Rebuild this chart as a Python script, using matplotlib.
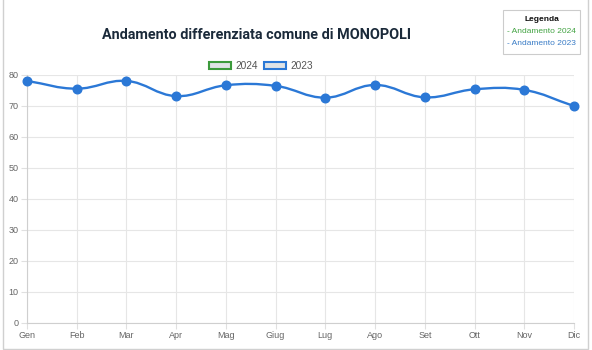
import numpy as np
import matplotlib
matplotlib.use("Agg")
import matplotlib.pyplot as plt
from matplotlib.path import Path
from matplotlib.patches import PathPatch, Patch, Rectangle

months = ["Gen", "Feb", "Mar", "Apr", "Mag", "Giug", "Lug", "Ago", "Set", "Ott", "Nov", "Dic"]
values_2023 = [78.0, 75.5, 78.0, 73.1, 76.6, 76.4, 72.6, 76.7, 72.7, 75.3, 75.1, 69.9]
values_2024 = []
yticks = [0, 10, 20, 30, 40, 50, 60, 70, 80]
title = "Andamento differenziata comune di MONOPOLI"

BLUE = "#2b78d6"
GREEN = "#3c9a3c"

fig = plt.figure(figsize=(5.92, 3.5), dpi=100)
fig.patch.set_facecolor("white")
ax = fig.add_axes([27/592, 1-323/350, (574-27)/592, (323-74.7)/350])
ax.set_facecolor("white")

x = np.arange(len(months), dtype=float)
y = np.array(values_2023, dtype=float)

# Chart.js style spline (tension 0.4)
def spline_path(xs, ys, t=0.4):
    n = len(xs)
    verts = [(xs[0], ys[0])]
    codes = [Path.MOVETO]
    cps = []
    for i in range(n):
        pxp, pyp = (xs[i-1], ys[i-1]) if i > 0 else (xs[i], ys[i])
        pxn, pyn = (xs[i+1], ys[i+1]) if i < n-1 else (xs[i], ys[i])
        cx, cy = xs[i], ys[i]
        d01 = np.hypot(cx-pxp, cy-pyp)
        d12 = np.hypot(pxn-cx, pyn-cy)
        s01 = d01/(d01+d12) if (d01+d12) else 0
        s12 = d12/(d01+d12) if (d01+d12) else 0
        fa, fb = t*s01, t*s12
        prev_cp = (cx - fa*(pxn-pxp), cy - fa*(pyn-pyp))
        next_cp = (cx + fb*(pxn-pxp), cy + fb*(pyn-pyp))
        cps.append((prev_cp, next_cp))
    for i in range(1, n):
        verts += [cps[i-1][1], cps[i][0], (xs[i], ys[i])]
        codes += [Path.CURVE4]*3
    return Path(verts, codes)

sx = 547/11.0
sy = 248/80.0
p = spline_path(x*sx, y*sy)
p = Path(np.column_stack([p.vertices[:, 0]/sx, p.vertices[:, 1]/sy]), p.codes)
ax.add_patch(PathPatch(p, facecolor="none", edgecolor=BLUE, lw=1.7, zorder=3, clip_on=False))
ax.plot(x, y, "o", color=BLUE, ms=6.2, zorder=4, clip_on=False)

ax.set_xlim(0, 11)
ax.set_ylim(0, 80)
ax.set_xticks(x)
ax.set_xticklabels(months)
ax.set_yticks(yticks)
ax.grid(True, color="#e6e6e6", lw=0.8)
ax.set_axisbelow(True)
for s in ["top", "right"]:
    ax.spines[s].set_visible(False)
for s in ["left", "bottom"]:
    ax.spines[s].set_color("#cfcfcf")
    ax.spines[s].set_linewidth(0.8)
ax.tick_params(axis="both", length=4, color="#e0e0e0", labelsize=6.5, labelcolor="#666666",
               pad=2)
for lbl in ax.get_xticklabels() + ax.get_yticklabels():
    lbl.set_fontfamily("Liberation Sans")

fig.text(257/592, 1-35/350, title, ha="center", va="center", fontsize=10.4,
         fontweight="bold", color="#1b2a3a", family="Roboto")

handles = [Patch(facecolor="#dfe3e6", edgecolor=GREEN, lw=1.5, label="2024"),
           Patch(facecolor="#dfe3e6", edgecolor=BLUE, lw=1.5, label="2023")]
leg = fig.legend(handles=handles, loc="center", bbox_to_anchor=(261/592, 1-66/350), ncol=2,
                 frameon=False, handlelength=2.2, handleheight=0.8,
                 columnspacing=0.6, handletextpad=0.4, labelcolor="#555555",
                 prop={"family": "Liberation Sans", "size": 7.3})

# right info box
fig.patches.append(Rectangle((503/592, 1-54/350), 77/592, 44/350, transform=fig.transFigure,
                             facecolor="white", edgecolor="#cccccc", lw=0.8))
fig.text(541.5/592, 1-19.5/350, "Legenda", ha="center", va="center", fontsize=6,
         fontweight="bold", color="#111111", family="Liberation Sans")
fig.text(541.5/592, 1-31.5/350, "- Andamento 2024", ha="center", va="center", fontsize=6,
         color="#43a343", family="Liberation Sans")
fig.text(541.5/592, 1-43.5/350, "- Andamento 2023", ha="center", va="center", fontsize=6,
         color="#3a7cc6", family="Liberation Sans")

# outer card border
fig.patches.append(Rectangle((2.5/592, 1.5/350), 585.5/592, 360/350, transform=fig.transFigure,
                             facecolor="none", edgecolor="#d0d0d0", lw=1.0, clip_on=False))

fig.savefig("out.png", dpi=100, facecolor=fig.get_facecolor())
